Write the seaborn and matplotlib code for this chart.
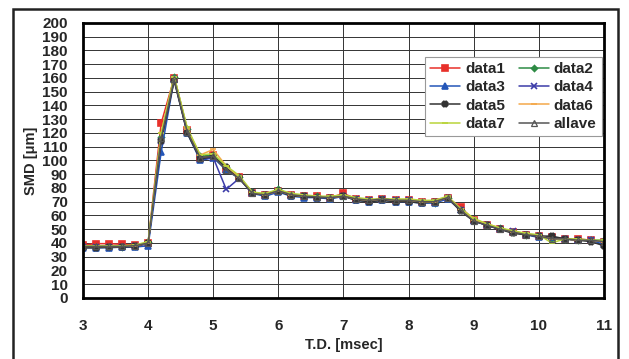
import numpy as np
import pandas as pd
import matplotlib
matplotlib.use('Agg')
import matplotlib.pyplot as plt
from matplotlib.patches import Rectangle
import seaborn as sns

# x grid (msec) and SMD values
td = np.round(np.arange(3.0, 11.01, 0.2), 1)
data1 = [38.5, 39.5, 39.5, 39, 38.5, 40, 127, 160, 122, 102, 104, 94, 88, 76, 75, 78, 75, 74, 74, 73, 76,
         72, 71, 72, 71, 71, 70, 70, 73, 66, 57, 53, 50, 48, 46, 45, 44, 43, 43, 42, 41]
data2 = [37, 37, 37, 37, 37.5, 40.5, 117, 161, 123, 103, 104, 95, 88, 77, 75, 79, 75, 74, 74, 73, 74,
         72, 71, 72, 71, 71, 70, 69, 73, 64, 57, 53, 51, 48, 46, 45, 43, 43, 42, 42, 42]
data3 = [36.5, 36.5, 36.5, 37, 37, 38, 106, 159, 120, 100, 102, 93, 87, 76, 74, 77, 74, 73, 73, 72, 74,
         71, 70, 71, 70, 70, 69, 69, 72, 64, 56, 53, 50, 48, 46, 44, 44, 43, 42, 42, 39]
data4 = [37, 37, 37, 37, 37.5, 39.5, 114, 159, 121, 101, 102, 79, 87, 76, 75, 78, 75, 74, 73, 73, 74,
         72, 71, 72, 71, 71, 70, 70, 73, 64, 56, 53, 50, 49, 46, 45, 44, 43, 42, 42, 41]
data5 = [36.5, 36.5, 37, 37, 37.5, 40, 114, 158, 120, 101, 103, 95, 87, 76, 75, 78, 74, 74, 73, 73, 74,
         71, 70, 71, 70, 70, 69, 70, 73, 63, 56, 53, 50, 47, 46, 45, 45, 43, 42, 41, 38]
data6 = [37.5, 37.5, 37.5, 37.5, 38, 40, 120, 161, 123, 104, 108, 96, 88, 77, 75, 78, 75, 74, 74, 73, 74,
         72, 71, 72, 71, 71, 70, 70, 73, 65, 57, 54, 51, 48, 47, 45, 43, 43, 42, 42, 41]
data7 = [38, 38, 38, 38, 38.5, 41, 120, 161, 124, 104, 105, 96, 89, 77, 76, 79, 76, 75, 74, 74, 75,
         73, 72, 72, 72, 72, 71, 71, 74, 65, 58, 54, 51, 49, 47, 46, 40, 43, 43, 42, 42]
allave = [37.5, 37.5, 37.5, 37.5, 38, 40, 116, 159, 121, 102, 103, 93, 87, 76, 75, 78, 75, 74, 73.5, 73, 74,
          72, 71, 72, 71, 71, 70, 70, 73, 64, 56, 53, 50, 48, 46, 45, 43, 43, 42, 42, 41]

names = ['data1', 'data2', 'data3', 'data4', 'data5', 'data6', 'data7', 'allave']
series = [data1, data2, data3, data4, data5, data6, data7, allave]
colors = ['#e8302a', '#2e8b45', '#2456b8', '#3c3ca8', '#333333', '#f4a84a', '#b9d43a', '#555555']
markers = ['s', 'D', '^', 'x', 'X', '_', '_', '^']
msizes = [4, 3, 4, 4.5, 4, 5, 5, 4]

sns.set_style('whitegrid')
plt.rcParams['font.family'] = ['Liberation Sans', 'DejaVu Sans']
plt.rcParams['font.weight'] = 'bold'

fig = plt.figure(figsize=(6.29, 3.59), dpi=100)
fig.patches.append(Rectangle((0.021, -0.05), 0.962, 1.025, transform=fig.transFigure,
                             fill=False, edgecolor='#222222', lw=1.8))
ax = fig.add_axes([0.132, 0.170, 0.828, 0.766])

for n, s, c, m, ms in zip(names, series, colors, markers, msizes):
    kw = dict(mfc='none', mec=c, mew=0.9) if n == 'allave' else dict(mec=c, mew=1.2)
    sns.lineplot(x=td, y=s, ax=ax, color=c, marker=m, markersize=ms, lw=1.1,
                 label=n, legend=False, **kw)

ax.set_xlim(3, 11)
ax.set_ylim(0, 200)
ax.set_xticks(range(3, 12))
ax.set_yticks(range(0, 201, 10))
ax.grid(True, color='#333333', lw=0.7)
for sp in ax.spines.values():
    sp.set_color('black')
    sp.set_linewidth(2)
ax.tick_params(axis='both', length=0, labelsize=11)
ax.tick_params(axis='x', pad=15)
ax.tick_params(axis='y', pad=11)
ax.set_xlabel('T.D. [msec]', fontsize=10.5, fontweight='bold', labelpad=4)
ax.set_ylabel('SMD [\u03bcm]', fontsize=10.5, fontweight='bold', labelpad=3)

h, l = ax.get_legend_handles_labels()
order = [0, 2, 4, 6, 1, 3, 5, 7]
leg = ax.legend([h[i] for i in order], [l[i] for i in order], ncol=2,
                loc='upper right', bbox_to_anchor=(1.011, 0.905), frameon=True,
                fancybox=False, edgecolor='#999999', framealpha=1,
                prop={'weight': 'bold', 'size': 11}, handlelength=2.0,
                columnspacing=0.9, handletextpad=0.3, labelspacing=0.28,
                borderpad=0.35)
leg.get_frame().set_linewidth(0.8)

fig.savefig('out.png', dpi=100)
